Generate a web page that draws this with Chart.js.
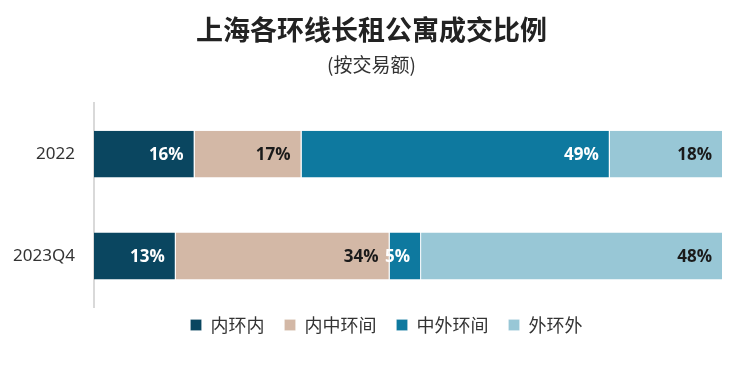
<!DOCTYPE html>
<html>
<head>
<meta charset="utf-8">
<script src="https://cdn.jsdelivr.net/npm/chart.js@4.4.1/dist/chart.umd.min.js"></script>
<style>
  html, body { margin: 0; padding: 0; background: #fff; }
  #wrap { width: 744px; height: 377px; }
</style>
</head>
<body>
<div id="wrap"><canvas id="ringChart"></canvas></div>
<script>
// 数据
const categories = ['2022', '2023Q4'];
const seriesNames = ['内环内', '内中环间', '中外环间', '外环外'];
const innerRing = [16, 13];
const innerMiddle = [17, 34];
const middleOuter = [49, 5];
const outerRing = [18, 48];

const seriesColors = ['#0a4660', '#d3b8a6', '#0e799f', '#98c7d6'];
const labelColors = ['#ffffff', '#1a1a1a', '#ffffff', '#1a1a1a'];

const CJK = "'Noto Sans CJK SC', 'Noto Sans', sans-serif";

// 柱内百分比标签
const barLabels = {
    id: 'barLabels',
    afterDatasetsDraw(chart) {
        const ctx = chart.ctx;
        ctx.save();
        ctx.font = "bold 17px 'Open Sans', 'Noto Sans', sans-serif";
        ctx.textAlign = 'right';
        ctx.textBaseline = 'middle';
        chart.data.datasets.forEach((ds, i) => {
            const meta = chart.getDatasetMeta(i);
            meta.data.forEach((bar, j) => {
                ctx.fillStyle = labelColors[i];
                ctx.fillText(ds.data[j] + '%', bar.x - 11, bar.y + 1);
            });
        });
        ctx.restore();
    }
};

// 标题和图例整体平移一点（原图不是按画布居中）
const boxShift = {
    id: 'boxShift',
    afterInit(chart) {
        const titleCtor = chart.titleBlock ? chart.titleBlock.constructor : null;
        chart.boxes.forEach(box => {
            let dx = 0, dy = 0;
            if (box === chart.legend) { dx = 25; dy = -11; }
            else if (titleCtor && box.constructor === titleCtor) { dx = 10; }
            else return;
            const origDraw = box.draw.bind(box);
            box.draw = function (area) {
                const c = this.ctx;
                c.save();
                c.translate(dx, dy);
                origDraw(area);
                c.restore();
            };
        });
    }
};

const valueSets = [innerRing, innerMiddle, middleOuter, outerRing];

new Chart(document.getElementById('ringChart'), {
    type: 'bar',
    data: {
        labels: categories,
        datasets: seriesNames.map((name, i) => ({
            label: name,
            data: valueSets[i],
            backgroundColor: seriesColors[i],
            borderColor: 'rgba(255,255,255,0.7)',
            borderWidth: { right: 1, left: 0, top: 0, bottom: 0 },
            borderSkipped: false,
            categoryPercentage: 0.92,
            barPercentage: 0.5
        }))
    },
    options: {
        indexAxis: 'y',
        responsive: true,
        maintainAspectRatio: false,
        animation: false,
        layout: { padding: { left: 0, right: 21, top: 0, bottom: 22 } },
        scales: {
            x: { stacked: true, min: 0, max: 100, display: false },
            y: {
                stacked: true,
                grid: { display: false },
                border: { display: true, color: '#d9d9d9', width: 2 },
                ticks: { color: '#333', padding: 11, font: { size: 17, family: "'Noto Sans', sans-serif" } },
                afterFit(scale) { scale.width = 94; }
            }
        },
        plugins: {
            title: {
                display: true,
                text: '上海各环线长租公寓成交比例',
                color: '#222',
                font: { size: 27, weight: 'bold', family: CJK },
                padding: { top: 14, bottom: 7 }
            },
            subtitle: {
                display: true,
                text: '(按交易额)',
                color: '#333',
                font: { size: 19, family: CJK },
                padding: { top: 0, bottom: 27 }
            },
            legend: {
                position: 'bottom',
                labels: {
                    color: '#333',
                    boxWidth: 11,
                    boxHeight: 11,
                    padding: 20,
                    font: { size: 18, family: CJK }
                }
            },
            tooltip: { enabled: false }
        }
    },
    plugins: [barLabels, boxShift]
});
</script>
</body>
</html>
